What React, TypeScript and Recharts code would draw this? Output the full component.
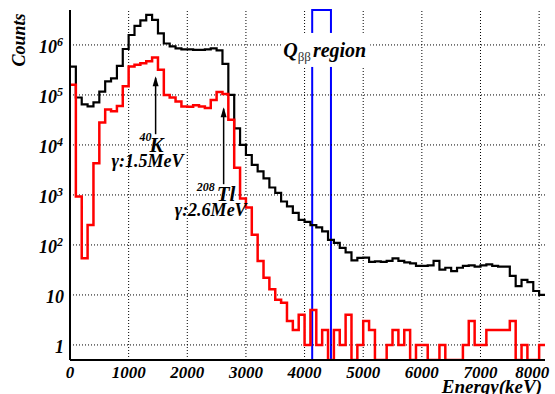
import {
  ComposedChart,
  Line,
  ReferenceArea,
  ReferenceDot,
  ReferenceLine,
  XAxis,
  YAxis
} from "recharts";

// 100 keV bins from 0 to 8100 keV
const binWidthKeV = 100;

const allCounts = [
  370000, 89000, 65000, 59000, 71000, 117000, 186000, 214000, 380000, 830000,
  1580000, 2400000, 3090000, 3980000, 3160000, 1700000, 1070000, 933000, 851000, 813000,
  813000, 794000, 794000, 813000, 851000, 776000, 417000, 100000, 21400, 10000,
  6300, 4000, 2950, 2140, 1410, 1100, 740, 590, 440, 316,
  290, 250, 224, 186, 126, 110, 87, 71, 49, 55,
  56, 46, 47, 46, 48, 54, 48, 45, 43, 38,
  38, 39, 48, 32, 35, 30, 35, 38, 39, 37,
  39, 41, 38, 37, 37, 24, 15, 20, 18, 12,
  10
];

const selectedCounts = [
  160000, 930, 54, 250, 4300, 28000, 51000, 47000, 60000, 150000,
  370000, 400000, 430000, 470000, 560000, 320000, 100000, 89000, 74000, 59000,
  58000, 62000, 59000, 55000, 79000, 115000, 105000, 32000, 3500, 850,
  560, 160, 48, 22, 13, 8, 7, 3, 2, 4,
  1, 5, 1, 2, 0, 2, 1, 4, 0, 1,
  3, 2, 0, 0, 1, 2, 1, 2, 0, 1,
  1, 0, 0, 1, 0, 0, 0, 1, 3, 1,
  1, 2, 2, 2, 2, 3, 0, 1, 0, 0,
  1
];

const xMajorTicks = [0, 1000, 2000, 3000, 4000, 5000, 6000, 7000, 8000];
const yMajorTicks = [1, 10, 100, 1000, 10000, 100000, 1000000];
const qbbWindow = [4130, 4450];
const k40Energy = 1460;
const tl208Energy = 2620;

const X_MAX = 8100;
const Y_MIN = 0.5;
const Y_MAX = 5e6;
const FONT = "'Liberation Serif', 'Times New Roman', serif";

const xMinorTicks: number[] = [];
for (let e = 0; e <= 8000; e += 200) xMinorTicks.push(e);

const yMinorTicks: number[] = [];
for (let d = -1; d <= 6; d++) {
  for (let m = 2; m <= 9; m++) {
    const v = m * Math.pow(10, d);
    if (v > Y_MIN && v <= Y_MAX) yMinorTicks.push(v);
  }
}

// zero bins sit on the frame bottom like ROOT does on a log axis
const chartData = allCounts.map((v, i) => ({
  e: i * binWidthKeV,
  all: Math.max(v, Y_MIN),
  sel: Math.max(selectedCounts[i], Y_MIN)
}));
chartData.push({
  e: allCounts.length * binWidthKeV,
  all: chartData[chartData.length - 1].all,
  sel: chartData[chartData.length - 1].sel
});

const txt = { fontFamily: FONT, fontWeight: "bold" as const, fontStyle: "italic" as const, fill: "#000" };

function EnergyTick({ x, payload }: any) {
  const shift = payload.value === 8000 ? -7 : 0;
  return (
    <text x={x + shift} y={378} textAnchor="middle" fontSize={17} {...txt}>
      {payload.value}
    </text>
  );
}

function CountTick({ y, payload }: any) {
  const v = payload.value;
  const exp = Math.round(Math.log10(v));
  if (exp < 2) {
    return (
      <text x={64} y={y + 8} textAnchor="end" fontSize={18} {...txt}>
        {String(v)}
      </text>
    );
  }
  return (
    <text x={63} y={y + 8} textAnchor="end" fontSize={18} {...txt}>
      <tspan>10</tspan>
      <tspan dy={-7} fontSize={12}>
        {exp}
      </tspan>
    </text>
  );
}

function ArrowHead({ cx, cy }: any) {
  return <polygon points={`${cx},${cy} ${cx - 3},${cy + 10} ${cx + 3},${cy + 10}`} fill="#000" />;
}

function K40Label({ cx, cy }: any) {
  return (
    <g>
      <text x={cx - 16} y={cy + 7} fontSize={12} {...txt}>40</text>
      <text x={cx - 6} y={cy + 18} fontSize={21} {...txt}>K</text>
      <text x={cx - 44} y={cy + 33} fontSize={18} {...txt}>γ:1.5MeV</text>
    </g>
  );
}

function Tl208Label({ cx, cy }: any) {
  return (
    <g>
      <text x={cx - 27} y={cy + 7} fontSize={12} {...txt}>208</text>
      <text x={cx - 7} y={cy + 17} fontSize={21} {...txt}>Tl</text>
      <text x={cx - 49} y={cy + 32} fontSize={18} {...txt}>γ:2.6MeV</text>
    </g>
  );
}

function QbbLabel({ cx, cy }: any) {
  return (
    <g>
      <rect x={cx - 30} y={cy - 12} width={88} height={34} fill="#fff" />
      <text x={cx - 29} y={cy + 12} fontSize={20} {...txt}>
        <tspan>Q</tspan>
        <tspan dy={4} fontSize={13} fontWeight="normal" fontStyle="normal" fill="#333">
          ββ
        </tspan>
        <tspan dy={-4} dx={2}>
          region
        </tspan>
      </text>
    </g>
  );
}

const tickStroke = { stroke: "#000", strokeWidth: 1 };
const frameStroke = { stroke: "#000", strokeWidth: 2 };
const gridProps = { stroke: "#000", strokeWidth: 1, strokeDasharray: "1 2" };

export default function App() {
  return (
    <div style={{ position: "absolute", left: 0, top: 0, width: 555, height: 394, background: "#fff" }}>
      <ComposedChart width={555} height={394} data={chartData} margin={{ top: 10, right: 10, bottom: 0, left: 0 }}>
        <XAxis
          xAxisId="x"
          dataKey="e"
          type="number"
          domain={[0, X_MAX]}
          allowDataOverflow
          ticks={xMajorTicks}
          interval={0}
          height={34}
          tickLine={false}
          axisLine={frameStroke}
          tick={<EnergyTick />}
          label={() => (
            <text x={542} y={393} textAnchor="end" fontSize={19} {...txt}>
              Energy(keV)
            </text>
          )}
        />
        <XAxis xAxisId="xb1" type="number" domain={[0, X_MAX]} allowDataOverflow mirror height={0} ticks={xMajorTicks} interval={0} tickSize={10} tick={false} axisLine={false} tickLine={tickStroke} />
        <XAxis xAxisId="xb2" type="number" domain={[0, X_MAX]} allowDataOverflow mirror height={0} ticks={xMinorTicks} interval={0} tickSize={5} tick={false} axisLine={false} tickLine={tickStroke} />
        <XAxis xAxisId="xt1" orientation="top" type="number" domain={[0, X_MAX]} allowDataOverflow mirror height={0} ticks={xMajorTicks} interval={0} tickSize={10} tick={false} axisLine={frameStroke} tickLine={tickStroke} />
        <XAxis xAxisId="xt2" orientation="top" type="number" domain={[0, X_MAX]} allowDataOverflow mirror height={0} ticks={xMinorTicks} interval={0} tickSize={5} tick={false} axisLine={false} tickLine={tickStroke} />
        <YAxis
          yAxisId="y"
          type="number"
          scale="log"
          domain={[Y_MIN, Y_MAX]}
          allowDataOverflow
          ticks={yMajorTicks}
          interval={0}
          width={70}
          tickLine={false}
          axisLine={frameStroke}
          tick={<CountTick />}
          label={() => (
            <text x={25} y={40} transform="rotate(-90 25 40)" textAnchor="middle" fontSize={18} {...txt}>
              Counts
            </text>
          )}
        />
        <YAxis yAxisId="yl1" type="number" scale="log" domain={[Y_MIN, Y_MAX]} allowDataOverflow mirror width={0} ticks={yMajorTicks} interval={0} tickSize={12} tick={false} axisLine={false} tickLine={tickStroke} />
        <YAxis yAxisId="yl2" type="number" scale="log" domain={[Y_MIN, Y_MAX]} allowDataOverflow mirror width={0} ticks={yMinorTicks} interval={0} tickSize={7} tick={false} axisLine={false} tickLine={tickStroke} />
        <YAxis yAxisId="yr1" orientation="right" type="number" scale="log" domain={[Y_MIN, Y_MAX]} allowDataOverflow mirror width={0} ticks={yMajorTicks} interval={0} tickSize={12} tick={false} axisLine={frameStroke} tickLine={tickStroke} />
        <YAxis yAxisId="yr2" orientation="right" type="number" scale="log" domain={[Y_MIN, Y_MAX]} allowDataOverflow mirror width={0} ticks={yMinorTicks} interval={0} tickSize={7} tick={false} axisLine={false} tickLine={tickStroke} />

        {xMajorTicks.slice(1).map((v) => (
          <ReferenceLine
            key={`gx${v}`}
            xAxisId="x"
            yAxisId="y"
            segment={[{ x: v, y: Y_MIN }, { x: v, y: Y_MAX }]}
            {...gridProps}
            ifOverflow="visible"
          />
        ))}
        {yMajorTicks.map((v) => (
          <ReferenceLine
            key={`gy${v}`}
            xAxisId="x"
            yAxisId="y"
            segment={[{ x: 0, y: v }, { x: X_MAX, y: v }]}
            {...gridProps}
            ifOverflow="visible"
          />
        ))}

        <Line xAxisId="x" yAxisId="y" dataKey="all" type="stepAfter" stroke="#000" strokeWidth={2.2} dot={false} isAnimationActive={false} />
        <Line xAxisId="x" yAxisId="y" dataKey="sel" type="stepAfter" stroke="#ff0000" strokeWidth={2.5} dot={false} isAnimationActive={false} />

        <ReferenceArea xAxisId="x" yAxisId="y" x1={qbbWindow[0]} x2={qbbWindow[1]} y1={Y_MIN} y2={Y_MAX} fill="none" fillOpacity={0} stroke="#0000ff" strokeWidth={2} ifOverflow="visible" />

        <ReferenceLine xAxisId="x" yAxisId="y" segment={[{ x: k40Energy, y: 1.64e4 }, { x: k40Energy, y: 2.2e5 }]} stroke="#000" strokeWidth={1.5} ifOverflow="visible" />
        <ReferenceDot xAxisId="x" yAxisId="y" x={k40Energy} y={2.37e5} shape={ArrowHead} ifOverflow="visible" />
        <ReferenceDot xAxisId="x" yAxisId="y" x={k40Energy} y={1.64e4} shape={K40Label} ifOverflow="visible" />

        <ReferenceLine xAxisId="x" yAxisId="y" segment={[{ x: tl208Energy, y: 1.64e3 }, { x: tl208Energy, y: 5.3e4 }]} stroke="#000" strokeWidth={1.5} ifOverflow="visible" />
        <ReferenceDot xAxisId="x" yAxisId="y" x={tl208Energy} y={5.68e4} shape={ArrowHead} ifOverflow="visible" />
        <ReferenceDot xAxisId="x" yAxisId="y" x={tl208Energy} y={1.64e3} shape={Tl208Label} ifOverflow="visible" />

        <ReferenceDot xAxisId="x" yAxisId="y" x={qbbWindow[0]} y={1e6} shape={QbbLabel} ifOverflow="visible" />
      </ComposedChart>
    </div>
  );
}
